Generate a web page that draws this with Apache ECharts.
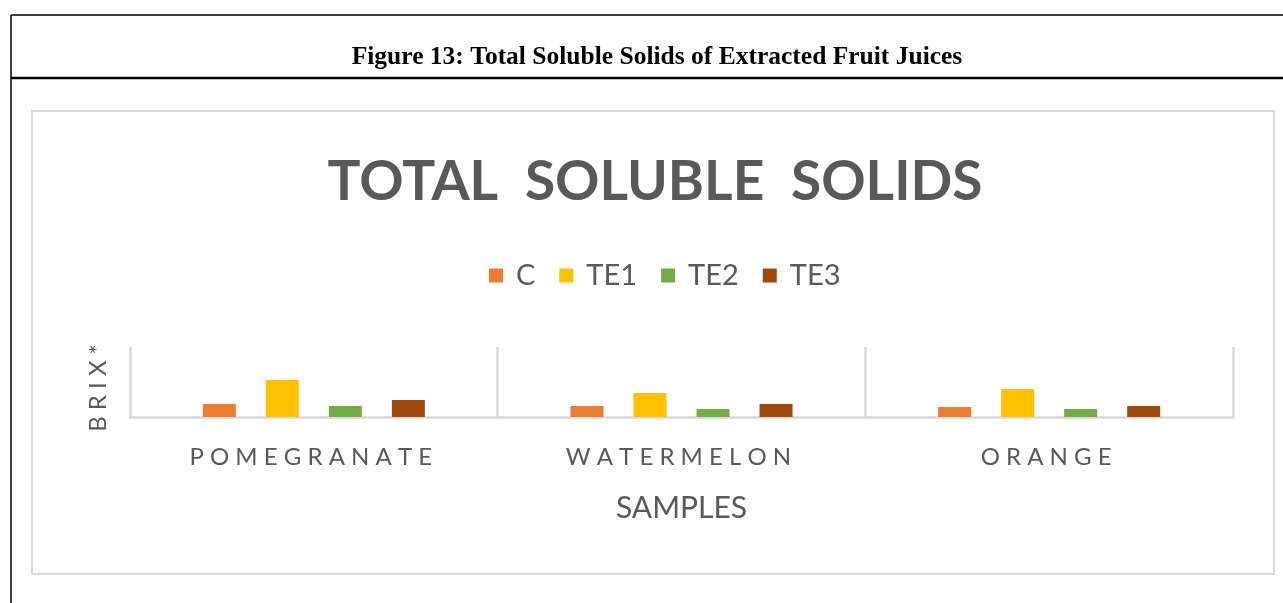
<!DOCTYPE html>
<html>
<head>
<meta charset="utf-8">
<script src="https://cdn.jsdelivr.net/npm/echarts@6/dist/echarts.min.js"></script>
<style>
html,body{margin:0;padding:0;background:#fff;}
#chart{width:1283px;height:603px;}
</style>
</head>
<body>
<div id="chart"></div>
<script>
const categories = ['POMEGRANATE', 'WATERMELON', 'ORANGE'];
const seriesNames = ['C', 'TE1', 'TE2', 'TE3'];
const valuesC   = [5.6, 4.7, 4.3];
const valuesTE1 = [15.9, 10.3, 12.0];
const valuesTE2 = [4.7, 3.4, 3.4];
const valuesTE3 = [7.3, 5.6, 4.7];
const seriesValues = [valuesC, valuesTE1, valuesTE2, valuesTE3];
const colors = ['#ED7D31', '#FFC000', '#70AD47', '#9E480E'];
const captionText = 'Figure 13: Total Soluble Solids of Extracted Fruit Juices';
const chartTitle = 'TOTAL  SOLUBLE  SOLIDS';
const xName = 'SAMPLES';
const yName = 'BRIX*';

const chart = echarts.init(document.getElementById('chart'), null, {renderer: 'canvas'});
const gray = '#595959';
const lineGray = '#d9d9d9';

const option = {
  backgroundColor: '#ffffff',
  animation: false,
  color: colors,
  title: [
    {
      text: captionText,
      left: 652, top: 39, textAlign: 'center',
      textStyle: {fontFamily: 'Liberation Serif', fontWeight: 'bold', fontSize: 25.5, color: '#000'}
    },
    {
      text: chartTitle,
      left: 650, top: 150, textAlign: 'center',
      textStyle: {fontFamily: 'Lato', fontWeight: 'bold', fontSize: 55, color: gray}
    }
  ],
  legend: {
    left: 484, top: 256,
    itemWidth: 14, itemHeight: 14, itemGap: 24,
    icon: 'rect',
    textStyle: {fontFamily: 'Lato', fontSize: 29, color: gray, padding: [0, 0, 0, 8]},
    data: seriesNames
  },
  grid: {left: 130, right: 50, top: 347, bottom: 186, containLabel: false},
  xAxis: {
    type: 'category',
    data: categories,
    name: xName,
    nameLocation: 'middle',
    nameGap: 76,
    nameTextStyle: {fontFamily: 'Lato', fontSize: 30, color: gray},
    axisLine: {show: true, lineStyle: {color: lineGray, width: 2.5}},
    axisTick: {show: false},
    splitLine: {show: true, lineStyle: {color: lineGray, width: 2.5}},
    axisLabel: {
      margin: 28,
      fontFamily: 'Lato', fontSize: 24, color: gray,
      formatter: v => v.split('').join(' ') + ' '
    }
  },
  yAxis: {
    type: 'value',
    min: 0, max: 30,
    name: yName.split('').join(' '),
    nameLocation: 'middle',
    nameGap: 20,
    nameTextStyle: {fontFamily: 'Lato', fontSize: 24, color: gray, padding: [0, 12, 0, 0]},
    axisLine: {show: false},
    axisTick: {show: false},
    axisLabel: {show: false},
    splitLine: {show: false}
  },
  series: seriesNames.map((n, i) => ({
    name: n,
    type: 'bar',
    data: seriesValues[i],
    barWidth: 33,
    barGap: '91%',
    itemStyle: {color: colors[i]}
  })),
  graphic: [
    {type: 'rect', z: -10, silent: true, shape: {x: 32, y: 111, width: 1242, height: 463},
     style: {fill: '#fefefe', stroke: '#dadada', lineWidth: 2}},
    {type: 'line', z: 10, silent: true, shape: {x1: 11, y1: 15, x2: 11, y2: 603}, style: {stroke: '#000', lineWidth: 1.5}},
    {type: 'line', z: 10, silent: true, shape: {x1: 11, y1: 15, x2: 1283, y2: 15}, style: {stroke: '#000', lineWidth: 1.5}},
    {type: 'line', z: 10, silent: true, shape: {x1: 11, y1: 78, x2: 1283, y2: 78}, style: {stroke: '#000', lineWidth: 2.5}}
  ]
};
chart.setOption(option);
</script>
</body>
</html>
